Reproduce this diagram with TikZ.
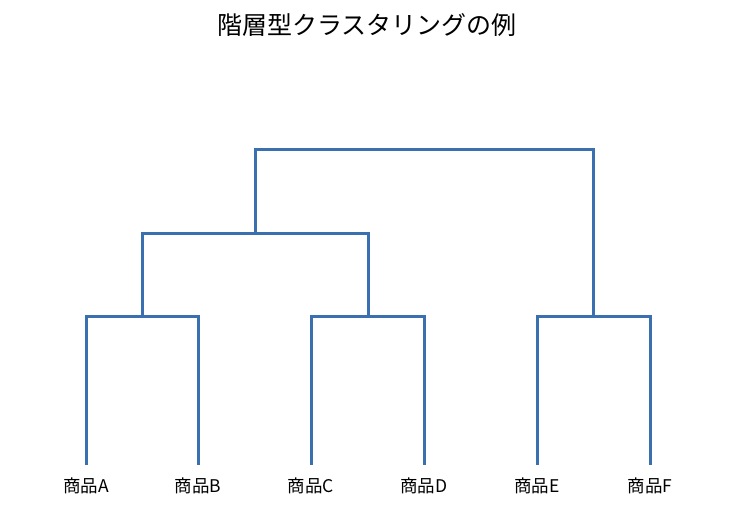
\documentclass[tikz,border=0pt]{standalone}
\usepackage{fontspec}
\setmainfont{Noto Sans CJK JP}
\definecolor{dendro}{RGB}{58,112,176}
\begin{document}
\begin{tikzpicture}[x=1pt,y=-1pt,
  link/.style={draw=dendro,line width=3pt},
  leaf/.style={font=\fontsize{17.5}{20}\selectfont,inner sep=0pt,anchor=center}]
\useasboundingbox (0,0) rectangle (735,525);
\node[font=\fontsize{25}{28}\selectfont] (title) at (367,25) {階層型クラスタリングの例};
\foreach \n/\x/\t in {a/86/商品A,b/198/商品B,c/311/商品C,d/424/商品D,e/537/商品E,f/650/商品F}{
  \coordinate (\n) at (\x,465);
  \node[leaf] (l\n) at (\x,486) {\t};
}
\coordinate (ab) at (142,316);
\coordinate (cd) at (368,316);
\coordinate (ef) at (593,316);
\coordinate (abcd) at (255,233);
\coordinate (root) at (255,149);
\draw[link] (a) |- (ab) -| (b);
\draw[link] (c) |- (cd) -| (d);
\draw[link] (e) |- (ef) -| (f);
\draw[link] (ab) |- (abcd) -| (cd);
\draw[link] (abcd) |- (root) -| (ef);
\end{tikzpicture}
\end{document}
